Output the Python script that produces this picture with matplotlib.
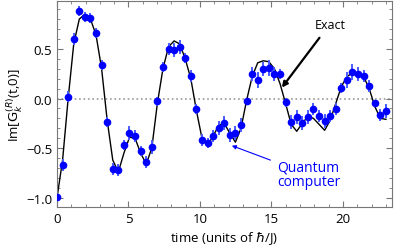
import numpy as np
import matplotlib
matplotlib.use("Agg")
import matplotlib.pyplot as plt
from matplotlib.ticker import MultipleLocator

plt.rcParams['font.family'] = ['Open Sans', 'DejaVu Sans']
plt.rcParams['mathtext.fontset'] = 'dejavusans'

# sample times (units of hbar/J)
times = np.arange(60) * 0.39

# quantum computer results
quantum = [-0.99, -0.67, 0.02, 0.60, 0.88, 0.82, 0.81, 0.66, 0.34, -0.24,
           -0.71, -0.72, -0.47, -0.35, -0.38, -0.53, -0.64, -0.49, -0.03, 0.32,
           0.50, 0.49, 0.52, 0.41, 0.23, -0.11, -0.42, -0.45, -0.38, -0.30,
           -0.25, -0.37, -0.35, -0.27, -0.03, 0.25, 0.19, 0.30, 0.31, 0.25,
           0.25, -0.04, -0.24, -0.19, -0.25, -0.19, -0.11, -0.18, -0.23, -0.18,
           -0.11, 0.11, 0.19, 0.27, 0.25, 0.23, 0.13, -0.05, -0.17, -0.13]
errors = [0.02, 0.06, 0.06, 0.06, 0.05, 0.05, 0.05, 0.05, 0.05, 0.05,
          0.06, 0.06, 0.05, 0.07, 0.06, 0.05, 0.06, 0.07, 0.05, 0.05,
          0.06, 0.07, 0.07, 0.05, 0.06, 0.05, 0.06, 0.05, 0.06, 0.07,
          0.07, 0.07, 0.07, 0.07, 0.04, 0.07, 0.08, 0.07, 0.08, 0.07,
          0.05, 0.05, 0.07, 0.07, 0.07, 0.07, 0.06, 0.06, 0.07, 0.06,
          0.06, 0.05, 0.08, 0.08, 0.07, 0.06, 0.06, 0.04, 0.06, 0.07]

# exact result
exact = [-1.00, -0.62, 0.00, 0.55, 0.80, 0.85, 0.80, 0.64, 0.30, -0.22,
         -0.62, -0.74, -0.55, -0.39, -0.40, -0.55, -0.66, -0.50, -0.05, 0.30,
         0.52, 0.58, 0.55, 0.40, 0.20, -0.12, -0.40, -0.47, -0.38, -0.27,
         -0.25, -0.35, -0.44, -0.30, -0.02, 0.22, 0.36, 0.38, 0.37, 0.30,
         0.15, -0.05, -0.26, -0.33, -0.25, -0.18, -0.20, -0.26, -0.32, -0.22,
         -0.05, 0.12, 0.22, 0.26, 0.25, 0.22, 0.10, -0.08, -0.20, -0.21]

fig = plt.figure(figsize=(3.94, 2.51), dpi=100)
ax = fig.add_axes([0.1447, 0.170, 0.849, 0.822])

ax.axhline(0, color='#999999', linestyle=':', linewidth=1.2, zorder=1)
ax.plot(times, exact, color='black', linewidth=1.0, zorder=2)
ax.errorbar(times, quantum, yerr=errors, fmt='o', color='#0000ff', ecolor='#4a5cff',
            elinewidth=1.4, markersize=4.5, capsize=0, zorder=3)

ax.set_xlim(0, 23.4)
ax.set_ylim(-1.096, 0.982)
ax.xaxis.set_major_locator(MultipleLocator(5))
ax.xaxis.set_minor_locator(MultipleLocator(1))
ax.yaxis.set_major_locator(MultipleLocator(0.5))
ax.yaxis.set_minor_locator(MultipleLocator(0.1))
ax.tick_params(which='both', direction='in', top=True, right=True, color='#777777',
               labelsize=9.5)
ax.tick_params(which='major', length=4)
ax.tick_params(which='minor', length=2)
for s in ax.spines.values():
    s.set_color('#777777')

ax.set_xlabel(r'time (units of $\hbar$/J)', fontsize=9.5, labelpad=3)
ax.set_ylabel(r'Im[$\mathrm{G}_k^{(R)}$(t,0)]', fontsize=9.5, labelpad=1)

ax.annotate('Exact', xy=(15.73, 0.11), xytext=(18.0, 0.75), fontsize=9,
            color='black', va='center',
            arrowprops=dict(arrowstyle='-|>', color='black', lw=1.6,
                            shrinkA=4, shrinkB=0, mutation_scale=8))
ax.annotate('Quantum\ncomputer', xy=(12.23, -0.475), xytext=(15.4, -0.765),
            fontsize=10, color='#0000ff', va='center', ha='left', linespacing=1.0,
            arrowprops=dict(arrowstyle='-|>', color='#0000ff', lw=0.8,
                            shrinkA=3, shrinkB=0, mutation_scale=6))

fig.savefig('out.png', dpi=100)
